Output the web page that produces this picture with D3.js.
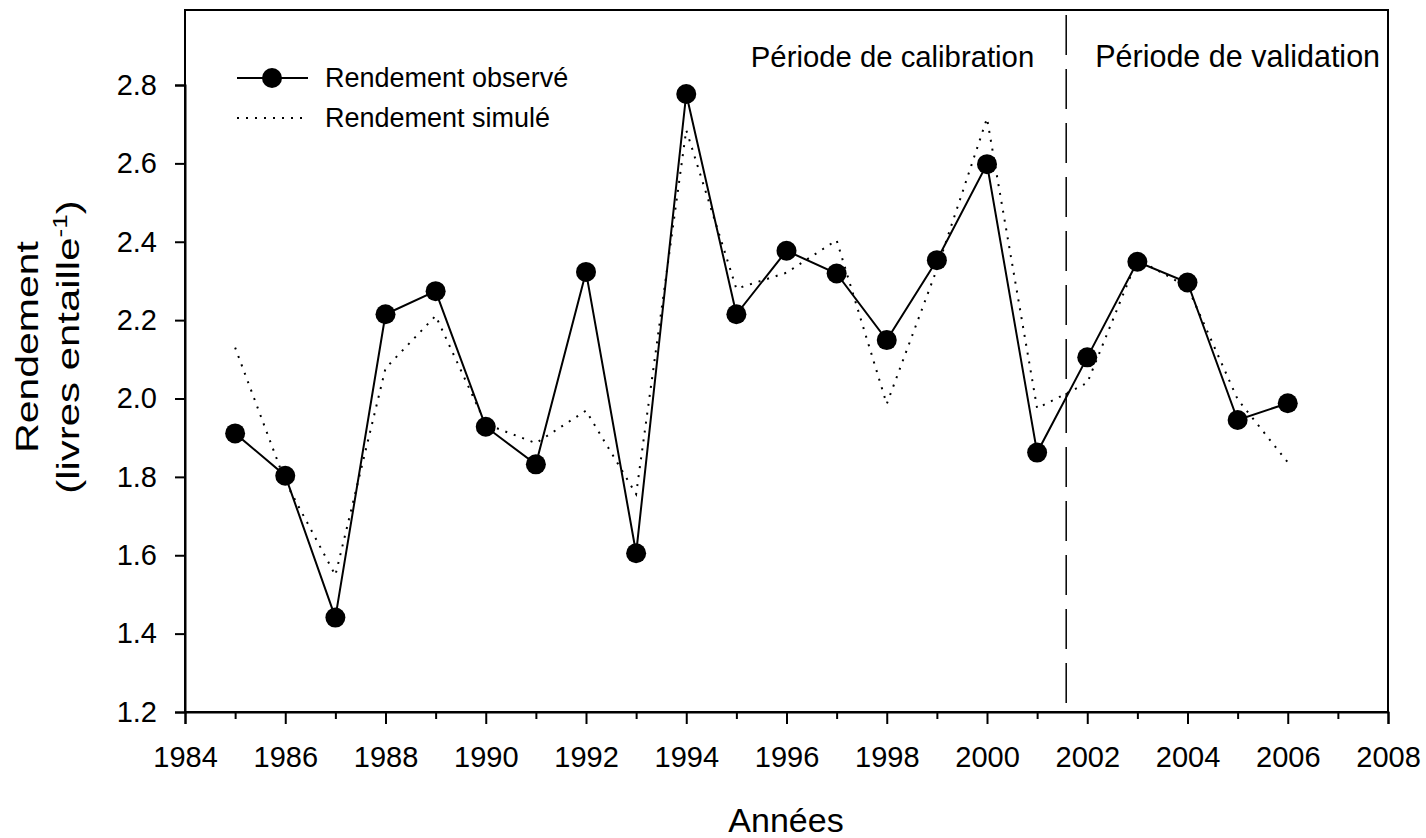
<!DOCTYPE html>
<html>
<head>
<meta charset="utf-8">
<script src="https://cdn.jsdelivr.net/npm/d3@7"></script>
<style>
  body { margin: 0; background: #fff; }
  svg text { font-family: "Liberation Sans", Arial, sans-serif; fill: #000; }
</style>
</head>
<body>
<svg id="chart" width="1426" height="838"></svg>
<script>
"use strict";

// data
const years = [1985, 1986, 1987, 1988, 1989, 1990, 1991, 1992, 1993, 1994, 1995,
               1996, 1997, 1998, 1999, 2000, 2001, 2002, 2003, 2004, 2005, 2006];
const observed = [1.911, 1.803, 1.441, 2.215, 2.274, 1.928, 1.832, 2.323, 1.605, 2.777, 2.215,
                  2.377, 2.319, 2.149, 2.353, 2.598, 1.862, 2.105, 2.349, 2.296, 1.945, 1.988];
const simulated = [2.130, 1.788, 1.549, 2.077, 2.211, 1.935, 1.886, 1.969, 1.756, 2.685, 2.280,
                   2.321, 2.404, 1.986, 2.330, 2.715, 1.975, 2.040, 2.355, 2.285, 1.998, 1.837];
const xTicks = [1984, 1986, 1988, 1990, 1992, 1994, 1996, 1998, 2000, 2002, 2004, 2006, 2008];
const yTicks = [1.2, 1.4, 1.6, 1.8, 2.0, 2.2, 2.4, 2.6, 2.8];
const splitYear = 2001.58;
const legendLabels = ["Rendement observé", "Rendement simulé"];
const periodLabels = ["Période de calibration", "Période de validation"];

const plotLeft = 185, plotRight = 1388, plotTop = 10, plotBottom = 712;

const svg = d3.select("#chart");

const xScale = d3.scaleLinear().domain([1984, 2008]).range([plotLeft, plotRight]);
const yScale = d3.scaleLinear().domain([1.2, 2.8]).range([plotBottom, 85]);

// frame
svg.append("rect")
    .attr("x", plotLeft).attr("y", plotTop)
    .attr("width", plotRight - plotLeft).attr("height", plotBottom - plotTop)
    .attr("fill", "none").attr("stroke", "#000").attr("stroke-width", 2);

// axes
const xAxis = d3.axisBottom(xScale).tickValues(xTicks).tickFormat(d3.format("d"))
    .tickSize(12).tickPadding(22);
svg.append("g").attr("transform", `translate(0,${plotBottom})`).call(xAxis);
const xMinor = d3.axisBottom(xScale).tickValues(d3.range(1985, 2008, 2))
    .tickSize(7).tickFormat("");
svg.append("g").attr("transform", `translate(0,${plotBottom})`).call(xMinor)
    .call(g => g.select(".domain").remove());

const yAxis = d3.axisLeft(yScale).tickValues(yTicks).tickFormat(d3.format(".1f"))
    .tickSize(10).tickPadding(18);
svg.append("g").attr("transform", `translate(${plotLeft},0)`).call(yAxis);

svg.selectAll(".domain").attr("stroke-width", 2);
svg.selectAll(".tick line").attr("stroke-width", 2);
svg.selectAll(".tick text").attr("font-size", 29)
    .style("font-family", '"Liberation Sans", Arial, sans-serif');

// split line
svg.append("line")
    .attr("x1", xScale(splitYear)).attr("x2", xScale(splitYear))
    .attr("y1", plotTop + 5).attr("y2", plotBottom)
    .attr("stroke", "#000").attr("stroke-width", 1.5)
    .attr("stroke-dasharray", "40,14");

// period labels
svg.append("text").attr("x", xScale(splitYear) - 32).attr("y", 67)
    .attr("text-anchor", "end").attr("font-size", 29.3).text(periodLabels[0]);
svg.append("text").attr("x", xScale(splitYear) + 29).attr("y", 67)
    .attr("font-size", 30.5).text(periodLabels[1]);

// series
const obsData = years.map((y, i) => [y, observed[i]]);
const simData = years.map((y, i) => [y, simulated[i]]);
const line = d3.line().x(d => xScale(d[0])).y(d => yScale(d[1]));

svg.append("path").datum(simData)
    .attr("d", line).attr("fill", "none")
    .attr("stroke", "#000").attr("stroke-width", 2)
    .attr("stroke-dasharray", "2,7");

svg.append("path").datum(obsData)
    .attr("d", line).attr("fill", "none")
    .attr("stroke", "#000").attr("stroke-width", 2);

svg.selectAll("circle.obs").data(obsData).join("circle")
    .attr("class", "obs")
    .attr("cx", d => xScale(d[0])).attr("cy", d => yScale(d[1]))
    .attr("r", 10).attr("fill", "#000");

// legend
const lg = svg.append("g");
lg.append("line").attr("x1", 237).attr("x2", 308).attr("y1", 78).attr("y2", 78)
    .attr("stroke", "#000").attr("stroke-width", 2);
lg.append("circle").attr("cx", 272).attr("cy", 78).attr("r", 10).attr("fill", "#000");
lg.append("text").attr("x", 325).attr("y", 87).attr("font-size", 27).text(legendLabels[0]);
lg.append("line").attr("x1", 237).attr("x2", 304).attr("y1", 118).attr("y2", 118)
    .attr("stroke", "#000").attr("stroke-width", 2).attr("stroke-dasharray", "2,7");
lg.append("text").attr("x", 325).attr("y", 127).attr("font-size", 27).text(legendLabels[1]);

// axis titles
svg.append("text").attr("x", 786).attr("y", 832)
    .attr("text-anchor", "middle").attr("font-size", 34).text("Années");

svg.append("text")
    .attr("transform", "translate(38,347) rotate(-90) scale(1.28,1)")
    .attr("text-anchor", "middle").attr("font-size", 32).text("Rendement");

const yl2 = svg.append("text")
    .attr("transform", "translate(79,347) rotate(-90) scale(1.31,1)")
    .attr("text-anchor", "middle").attr("font-size", 32);
yl2.append("tspan").text("(livres entaille");
yl2.append("tspan").attr("dy", -12).attr("font-size", 20).text("-1");
yl2.append("tspan").attr("dy", 12).text(")");
</script>
</body>
</html>
